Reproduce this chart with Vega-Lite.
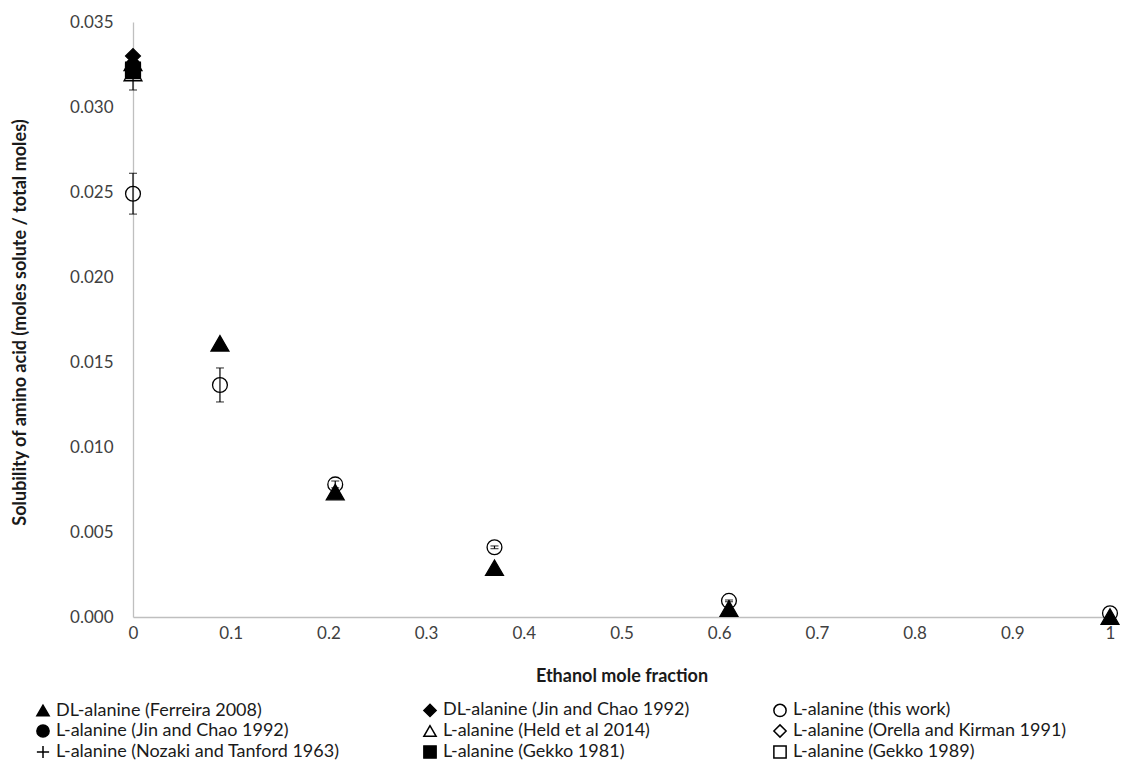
{
  "$schema": "https://vega.github.io/schema/vega-lite/v6.json",
  "width": 977,
  "height": 595,
  "autosize": {"type": "none"},
  "padding": {"left": 133, "top": 22, "right": 12, "bottom": 146},
  "config": {
    "font": "Lato",
    "view": {"stroke": null},
    "axis": {"grid": false, "ticks": false, "domainColor": "#bfbfbf", "domainWidth": 1.3, "labelColor": "#404040", "labelFontSize": 17, "titleColor": "#1a1a1a", "titleFontWeight": "bold"},
    "legend": {"labelFontSize": 18, "labelColor": "#1a1a1a", "symbolSize": 150, "labelLimit": 500}
  },
  "data": {
    "values": [
      {"series": "L-alanine (this work)", "x": 0, "y": 0.0249, "lo": 0.0237, "hi": 0.0261},
      {"series": "L-alanine (this work)", "x": 0.089, "y": 0.01365, "lo": 0.01265, "hi": 0.01465},
      {"series": "L-alanine (this work)", "x": 0.207, "y": 0.0078, "lo": 0.0076, "hi": 0.008},
      {"series": "L-alanine (this work)", "x": 0.37, "y": 0.0041, "lo": 0.00402, "hi": 0.00418},
      {"series": "L-alanine (this work)", "x": 0.61, "y": 0.00095, "lo": 0.0009, "hi": 0.001},
      {"series": "L-alanine (this work)", "x": 1, "y": 0.00022},
      {"series": "L-alanine (Held et al 2014)", "x": 0, "y": 0.032, "lo": 0.031, "hi": 0.033},
      {"series": "L-alanine (Orella and Kirman 1991)", "x": 0, "y": 0.0322},
      {"series": "L-alanine (Gekko 1989)", "x": 0, "y": 0.0322},
      {"series": "L-alanine (Nozaki and Tanford 1963)", "x": 0, "y": 0.0323},
      {"series": "L-alanine (Gekko 1981)", "x": 0, "y": 0.0321},
      {"series": "L-alanine (Jin and Chao 1992)", "x": 0, "y": 0.0324},
      {"series": "DL-alanine (Jin and Chao 1992)", "x": 0, "y": 0.033},
      {"series": "DL-alanine (Ferreira 2008)", "x": 0, "y": 0.0326},
      {"series": "DL-alanine (Ferreira 2008)", "x": 0.089, "y": 0.0161},
      {"series": "DL-alanine (Ferreira 2008)", "x": 0.207, "y": 0.00735},
      {"series": "DL-alanine (Ferreira 2008)", "x": 0.37, "y": 0.0029},
      {"series": "DL-alanine (Ferreira 2008)", "x": 0.61, "y": 0.0005},
      {"series": "DL-alanine (Ferreira 2008)", "x": 1, "y": 0.00003}
    ]
  },
  "encoding": {
    "x": {
      "field": "x", "type": "quantitative",
      "scale": {"domain": [0, 1], "nice": false, "zero": true},
      "axis": {"values": [0, 0.1, 0.2, 0.3, 0.4, 0.5, 0.6, 0.7, 0.8, 0.9, 1], "format": ".1~f", "labelFlush": false, "labelPadding": 8, "title": "Ethanol mole fraction", "titleFontSize": 18, "titleY": 59, "titleBaseline": "middle"}
    },
    "y": {
      "field": "y", "type": "quantitative",
      "scale": {"domain": [0, 0.035], "nice": false},
      "axis": {"values": [0, 0.005, 0.01, 0.015, 0.02, 0.025, 0.03, 0.035], "format": ".3f", "labelPadding": 20, "title": "Solubility of amino acid (moles solute / total moles)", "titleFontSize": 18, "titleX": -113, "titleY": 300, "titleBaseline": "middle", "titleAngle": -90}
    }
  },
  "layer": [
    {
      "transform": [{"filter": "datum.lo != null"}],
      "mark": {"type": "errorbar", "color": "black", "thickness": 1.2, "ticks": {"size": 8, "thickness": 1.2, "color": "black"}},
      "encoding": {
        "y": {"field": "lo", "type": "quantitative", "title": "Solubility of amino acid (moles solute / total moles)"},
        "y2": {"field": "hi"}
      }
    },
    {
      "transform": [{"filter": "datum.series != 'DL-alanine (Ferreira 2008)' && datum.series != 'L-alanine (Held et al 2014)'"}],
      "mark": {"type": "point", "filled": true, "opacity": 1, "stroke": "black", "strokeWidth": 1.3, "size": 220},
      "encoding": {
        "shape": {"field": "series", "type": "nominal"},
        "fill": {"field": "series", "type": "nominal"}
      }
    },
    {
      "transform": [{"filter": "datum.series == 'DL-alanine (Ferreira 2008)' || datum.series == 'L-alanine (Held et al 2014)'"}],
      "mark": {"type": "point", "filled": true, "opacity": 1, "stroke": "black", "strokeWidth": 1.3, "size": 320},
      "encoding": {
        "shape": {
          "field": "series", "type": "nominal",
          "scale": {
            "domain": ["DL-alanine (Ferreira 2008)", "L-alanine (Jin and Chao 1992)", "L-alanine (Nozaki and Tanford 1963)", "DL-alanine (Jin and Chao 1992)", "L-alanine (Held et al 2014)", "L-alanine (Gekko 1981)", "L-alanine (this work)", "L-alanine (Orella and Kirman 1991)", "L-alanine (Gekko 1989)"],
            "range": ["triangle-up", "circle", "M-1,0H1M0,-1V1", "diamond", "triangle-up", "square", "circle", "diamond", "square"]
          },
          "legend": {
            "title": null, "orient": "none", "legendX": -99, "legendY": 679, "columns": 3, "columnPadding": 80, "rowPadding": 1, "labelOffset": 4,
            "encode": {"symbols": {"update": {"stroke": {"value": "black"}, "strokeWidth": {"value": 1}, "size": {"value": 150}}}}
          }
        },
        "fill": {
          "field": "series", "type": "nominal",
          "scale": {
            "domain": ["DL-alanine (Ferreira 2008)", "L-alanine (Jin and Chao 1992)", "L-alanine (Nozaki and Tanford 1963)", "DL-alanine (Jin and Chao 1992)", "L-alanine (Held et al 2014)", "L-alanine (Gekko 1981)", "L-alanine (this work)", "L-alanine (Orella and Kirman 1991)", "L-alanine (Gekko 1989)"],
            "range": ["black", "black", "transparent", "black", "transparent", "black", "transparent", "transparent", "transparent"]
          },
          "legend": {
            "title": null, "orient": "none", "legendX": -99, "legendY": 679, "columns": 3, "columnPadding": 80, "rowPadding": 1, "labelOffset": 4,
            "encode": {"symbols": {"update": {"stroke": {"value": "black"}, "strokeWidth": {"value": 1}, "size": {"value": 150}}}}
          }
        }
      }
    }
  ]
}
